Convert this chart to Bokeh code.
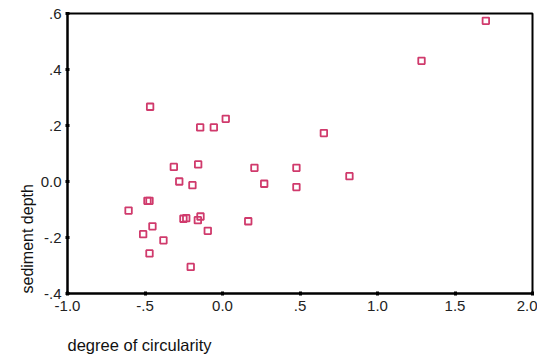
from bokeh.plotting import figure
from bokeh.models import Range1d, FixedTicker, Title, ColumnDataSource
from bokeh.embed import file_html
from bokeh.resources import INLINE

circularity = [-0.467, -0.144, -0.056, 0.021, -0.314, -0.157, 0.206,
               1.699, 1.284, 0.654, 0.477, 0.819,
               -0.279, -0.194, 0.269, -0.484, -0.471, -0.606, -0.252, -0.234,
               -0.142, -0.159, -0.452, -0.512, -0.095, -0.381, 0.166, -0.471,
               -0.205, 0.477]
depth = [0.267, 0.193, 0.193, 0.224, 0.052, 0.061, 0.049,
         0.574, 0.431, 0.173, 0.049, 0.019,
         0.0, -0.013, -0.008, -0.069, -0.069, -0.104, -0.133, -0.131,
         -0.125, -0.138, -0.160, -0.188, -0.176, -0.210, -0.142, -0.257,
         -0.305, -0.020]

x_ticks = [-1.0, -0.5, 0.0, 0.5, 1.0, 1.5, 2.0]
x_tick_labels = ["-1.0", "-.5", "0.0", ".5", "1.0", "1.5", "2.0"]
y_ticks = [-0.4, -0.2, 0.0, 0.2, 0.4, 0.6]
y_tick_labels = ["-.4", "-.2", "0.0", ".2", ".4", ".6"]

FONT = "Liberation Sans"

p = figure(frame_width=465, frame_height=280, output_backend="svg",
           toolbar_location=None,
           x_range=Range1d(-1.0, 2.0), y_range=Range1d(-0.4, 0.6),
           min_border_left=67, min_border_right=5, min_border_top=13,
           min_border_bottom=10)
p.grid.visible = False
p.outline_line_color = "black"
p.outline_line_width = 2
p.background_fill_color = "white"
p.border_fill_color = "white"

src = ColumnDataSource(dict(x=circularity, y=depth))
p.scatter("x", "y", source=src, marker="square", size=6.5,
          fill_color=None, line_color="#d03a6c", line_width=1.8)

for ax, ticks, labels in ((p.xaxis[0], x_ticks, x_tick_labels),
                          (p.yaxis[0], y_ticks, y_tick_labels)):
    ax.ticker = FixedTicker(ticks=ticks)
    ax.major_label_overrides = {t: l for t, l in zip(ticks, labels)}
    ax.minor_tick_line_color = None
    ax.major_tick_in = 2
    ax.major_tick_out = 2
    ax.major_tick_line_width = 3
    ax.major_tick_line_color = "black"
    ax.axis_line_width = 2
    ax.axis_line_color = "black"
    ax.major_label_text_font = FONT
    ax.major_label_text_font_size = "15px"
    ax.major_label_text_color = "#222222"

p.xaxis[0].major_label_standoff = 5
p.yaxis[0].major_label_standoff = 4
p.yaxis[0].major_label_orientation = "horizontal"

xt = Title(text="degree of circularity", align="left", text_font=FONT,
           text_font_size="16.5px", text_font_style="normal", text_color="#111111",
           standoff=40)
p.add_layout(xt, "below")
yt = Title(text="sediment depth", align="left", text_font=FONT,
           text_font_size="16px", text_font_style="normal", text_color="#111111",
           standoff=4)
p.add_layout(yt, "left")

open("out.html", "w").write(file_html(p, INLINE))
